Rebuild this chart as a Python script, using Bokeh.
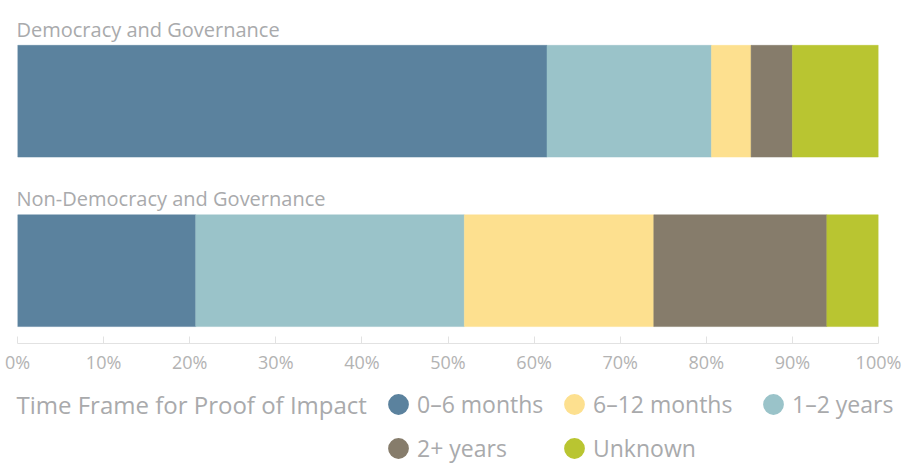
from bokeh.plotting import figure
from bokeh.models import (ColumnDataSource, Range1d, FixedTicker, PrintfTickFormatter,
                          Legend, LegendItem, Label)
from bokeh.core.properties import value
from bokeh.embed import file_html
from bokeh.resources import INLINE

# ---- data ----
categories = ["Democracy and Governance", "Non-Democracy and Governance"]
positions = [1, 0]
months_0_6 = [61.5, 20.7]
years_1_2 = [19.1, 31.2]
months_6_12 = [4.6, 22.0]
years_2_plus = [4.8, 20.1]
unknown = [10.0, 6.0]

stack_keys = ["m0_6", "y1_2", "m6_12", "y2p", "unk"]
stack_names = ["0–6 months", "1–2 years", "6–12 months", "2+ years", "Unknown"]
stack_colors = ["#5b829e", "#9ac3c9", "#fde08f", "#867c6b", "#b9c531"]
legend_title = "Time Frame for Proof of Impact"
legend_columns = [["0–6 months", "2+ years"], ["6–12 months", "Unknown"], ["1–2 years"]]
tick_values = [0, 10, 20, 30, 40, 50, 60, 70, 80, 90, 100]

FONT = "Open Sans"
TEXT_GREY = "#a9aaac"
BAR_H = 0.659
W = 914
TOP_H = 376
BOT_H = 464 - TOP_H
ROW_H = 44
ROW1_CENTER = 403.5

src = ColumnDataSource(dict(pos=positions, m0_6=months_0_6, y1_2=years_1_2,
                            m6_12=months_6_12, y2p=years_2_plus, unk=unknown))

p = figure(width=W, height=TOP_H, output_backend="svg", toolbar_location=None,
           x_range=Range1d(0, 100), y_range=Range1d(-0.4294, 1.594),
           y_axis_location=None, min_border_left=17, min_border_right=36,
           min_border_top=0, min_border_bottom=TOP_H - 344)
p.outline_line_color = None
p.xgrid.grid_line_color = None
p.ygrid.grid_line_color = None

p.hbar_stack(stack_keys, y="pos", height=BAR_H, source=src,
             color=stack_colors, line_color=stack_colors, line_width=0.5)

# category titles above bars
tsrc = ColumnDataSource(dict(x=[0] * len(categories),
                             y=[v + BAR_H / 2 for v in positions], text=categories))
p.text(x="x", y="y", text="text", source=tsrc, text_font=value(FONT),
       text_font_size="20px", text_color=TEXT_GREY, text_baseline="alphabetic",
       text_align="left", x_offset=-1, y_offset=-16)

# axis
ax = p.xaxis[0]
ax.ticker = FixedTicker(ticks=tick_values)
ax.formatter = PrintfTickFormatter(format="%d%%")
ax.axis_line_color = "#e2e2e2"
ax.major_tick_line_color = "#e2e2e2"
ax.major_tick_in = 7
ax.major_tick_out = 0
ax.minor_tick_line_color = None
ax.major_label_text_font = FONT
ax.major_label_text_font_size = "18px"
ax.major_label_text_color = "#b3b3b3"
ax.major_label_standoff = 6

# ---- legend figure (separate root so its frame spans the full width) ----
q = figure(width=W, height=BOT_H, output_backend="svg", toolbar_location=None,
           x_range=Range1d(0, 1), y_range=Range1d(0, 1),
           x_axis_location=None, y_axis_location=None, min_border=0)
q.outline_line_color = None
q.xgrid.grid_line_color = None
q.ygrid.grid_line_color = None

color_of = dict(zip(stack_names, stack_colors))
swatch = {}
for name in stack_names:
    swatch[name] = q.ellipse(x=[float("nan")], y=[float("nan")], width=21, height=21,
                             width_units="screen", height_units="screen",
                             fill_color=color_of[name], line_color=None)

col_left = [385, 561, 760]
row_top = ROW1_CENTER - ROW_H / 2 - TOP_H
for cx, col in zip(col_left, legend_columns):
    items = [LegendItem(label=n, renderers=[swatch[n]]) for n in col]
    h = ROW_H * len(col)
    leg = Legend(items=items, orientation="vertical",
                 location=(cx, int(round(BOT_H - row_top - h))),
                 glyph_width=26, glyph_height=ROW_H, spacing=0, label_standoff=6,
                 padding=0, margin=0, border_line_color=None, background_fill_alpha=0,
                 label_text_font=FONT, label_text_font_size="23px",
                 label_text_color=TEXT_GREY)
    q.add_layout(leg, "center")

q.add_layout(Label(x=16, y=BOT_H - (ROW1_CENTER - TOP_H), x_units="screen", y_units="screen",
                   text=legend_title, text_font=FONT, text_font_size="24px",
                   text_color=TEXT_GREY, text_baseline="middle"))

open("out.html", "w").write(file_html([p, q], INLINE))
